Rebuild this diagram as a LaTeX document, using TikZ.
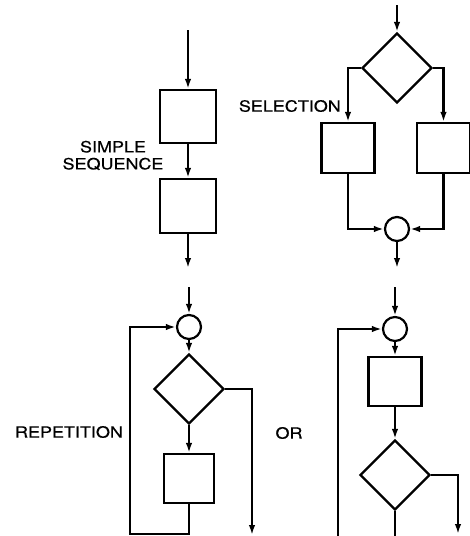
\documentclass[tikz,border=0pt]{standalone}
\usepackage{fontspec}
\newfontfamily\capsfont[FakeStretch=1.16,FakeBold=0.6]{TeX Gyre Heros}
\usetikzlibrary{arrows.meta,shapes.geometric}

\begin{document}
\begin{tikzpicture}[
    x=1pt, y=-1pt,
    % Define line and arrow styles
    flow/.style={line width=2.2pt},
    arrow/.style={flow, -{Latex[length=10pt,width=6.5pt]}},
    % Define shape styles
    procbox/.style={draw, line width=2.2pt, minimum width=53pt, minimum height=50pt, inner sep=0pt},
    decision/.style={draw, diamond, line width=2.2pt, minimum size=70pt, inner sep=0pt},
    joint/.style={draw, circle, line width=2.2pt, minimum size=24pt, inner sep=0pt},
    caption/.style={font=\capsfont\fontsize{15.5}{17}\selectfont, align=center, inner sep=0pt}
]
\useasboundingbox (0,0) rectangle (470,536);

% Simple sequence
\coordinate (seqin) at (188,30);
\node[procbox, minimum width=56pt, minimum height=53pt] (seqa) at (188,116.5) {};
\node[procbox, minimum width=56pt, minimum height=54pt] (seqb) at (188,206) {};
\coordinate (seqout) at (188,268);
\draw[arrow] (seqin) -- (seqa.north);
\draw[arrow] (seqa.south) -- (seqb.north);
\draw[arrow] (seqb.south) -- (seqout);
\node[caption] (seqlabel) at (113,155.5) {SIMPLE\\SEQUENCE};

% Selection
\coordinate (selin) at (397,5);
\node[decision] (seltest) at (397,68) {};
\node[procbox] (selyes) at (348,148) {};
\node[procbox] (selno) at (443.5,148) {};
\node[joint] (seljoin) at (397,229) {};
\coordinate (selout) at (397,268);
\draw[arrow] (selin) -- (seltest.north);
\draw[arrow] (seltest.west) -| (selyes.north);
\draw[arrow] (seltest.east) -| (selno.north);
\draw[arrow] (selyes.south) |- (seljoin.west);
\draw[arrow] (selno.south) |- (seljoin.east);
\draw[arrow] (seljoin.south) -- (selout);
\node[caption, anchor=east] (sellabel) at (341,106) {SELECTION};

% Repetition: test first
\coordinate (repin) at (189,287);
\node[joint] (repjoin) at (189,327) {};
\node[decision] (reptest) at (189,389) {};
\node[procbox, minimum width=50pt, minimum height=49pt] (repbody) at (189,478.5) {};
\coordinate (repexit) at (252,535);
\coordinate (repback) at (130,534);
\draw[arrow] (repin) -- (repjoin.north);
\draw[arrow] (repjoin.south) -- (reptest.north);
\draw[arrow] (reptest.south) -- (repbody.north);
\draw[arrow] (reptest.east) -| (repexit);
\draw[arrow] (repbody.south) |- (repback) |- (repjoin.west);
\node[caption] (replabel) at (69,432) {REPETITION};

\node[caption] (orlabel) at (289,433) {OR};

% Repetition: test last
\coordinate (altin) at (395,287);
\node[joint] (altjoin) at (395,329) {};
\node[procbox, minimum height=49pt] (altbody) at (395,381.5) {};
\node[decision] (alttest) at (395,475) {};
\coordinate (altexit) at (458,534);
\coordinate (altdown) at (395,545);
\coordinate (altback) at (338,545);
\draw[arrow] (altin) -- (altjoin.north);
\draw[arrow] (altjoin.south) -- (altbody.north);
\draw[arrow] (altbody.south) -- (alttest.north);
\draw[arrow] (alttest.east) -| (altexit);
\draw[flow] (alttest.south) -- (altdown);
\draw[arrow] (altback) |- (altjoin.west);

\end{tikzpicture}
\end{document}
